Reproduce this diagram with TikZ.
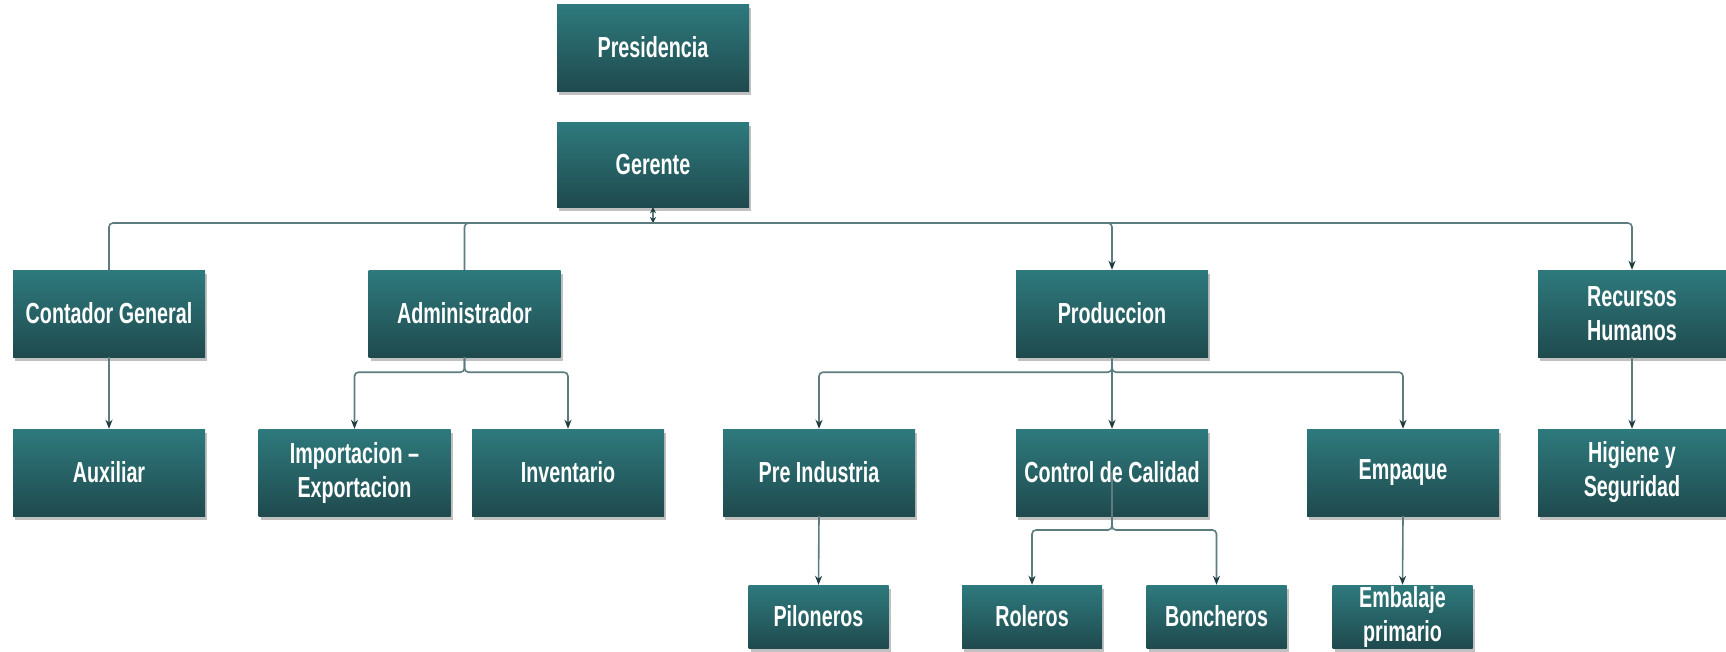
\documentclass[tikz,border=0pt]{standalone}
\usepackage{fontspec}
\setmainfont{Liberation Sans}[FakeStretch=0.68]
\usetikzlibrary{shadows,arrows.meta}
\definecolor{boxtop}{HTML}{2E7A7D}
\definecolor{boxbot}{HTML}{1F4A4E}
\definecolor{conncol}{HTML}{5C7C80}
\definecolor{tipcol}{HTML}{1E3C40}
\begin{document}
\begin{tikzpicture}[x=1pt,y=-1pt,
  orgbox/.style={rectangle, minimum width=192pt, minimum height=87pt, inner sep=0pt,
    top color=boxtop, bottom color=boxbot, draw=none, text=white, align=center,
    font=\bfseries\fontsize{29pt}{34pt}\selectfont,
    drop shadow={shadow xshift=2pt, shadow yshift=-4pt, opacity=0.35, fill=black!70}},
  smallbox/.style={orgbox, minimum width=140pt, minimum height=63pt},
  conn/.style={draw=conncol, line width=1.6pt, rounded corners=4pt},
  arr/.style={conn, -{Stealth[length=9pt,width=7pt,color=tipcol]}}]
\useasboundingbox (0,0) rectangle (1726,651);
\fill[white] (0,0) rectangle (1726,651);

\node[orgbox] (pres) at (653,47.5) {Presidencia};
\node[orgbox, minimum height=85pt] (ger) at (653,164.5) {Gerente};

\node[orgbox] (cont) at (109,313.5) {Contador General};
\node[orgbox] (adm) at (464.5,313.5) {Administrador};
\node[orgbox] (prod) at (1112,313.5) {Produccion};
\node[orgbox, minimum width=188pt] (rh) at (1632,313.5) {Recursos\\Humanos};

\node[orgbox] (aux) at (109,472.5) {Auxiliar};
\node[orgbox] (imp) at (354.5,472.5) {Importacion –\\Exportacion};
\node[orgbox] (inv) at (568,472.5) {Inventario};
\node[orgbox] (pre) at (819,472.5) {Pre Industria};
\node[orgbox] (cdc) at (1112,472.5) {Control de Calidad};
\node[orgbox] (emp) at (1403,472.5) {Empaque};
\node[orgbox, minimum width=188pt] (hig) at (1632,472.5) {Higiene y\\Seguridad};

\node[smallbox] (pil) at (818.5,616.5) {Piloneros};
\node[smallbox] (rol) at (1032,616.5) {Roleros};
\node[smallbox] (bon) at (1216.5,616.5) {Boncheros};
\node[smallbox] (emb) at (1402.5,616.5) {Embalaje\\primario};

\coordinate (bus) at (653,223);
\draw[conn, {Stealth[length=6pt,width=6pt,color=tipcol]}-{Stealth[length=6pt,width=6pt,color=tipcol]}] (ger.south) -- (bus);
\draw[conn] (bus) -| (cont.north);
\draw[conn] (bus) -| (adm.north);
\draw[arr] (bus) -| (prod.north);
\draw[arr] (bus) -| (rh.north);

\draw[arr] (cont.south) -- (aux.north);
\draw[arr] (adm.south) -- ++(0,15) -| (imp.north);
\draw[arr] (adm.south) -- ++(0,15) -| (inv.north);
\draw[arr] (prod.south) -- ++(0,15) -| (pre.north);
\draw[arr] (prod.south) -- (cdc.north);
\draw[arr] (prod.south) -- ++(0,15) -| (emp.north);
\draw[arr] (rh.south) -- (hig.north);

\draw[arr] (pre.south) -- (pil.north);
\draw[arr] (cdc.center) -- ++(0,57.5) -| (rol.north);
\draw[arr] (cdc.center) -- ++(0,57.5) -| (bon.north);
\draw[arr] (emp.south) -- (emb.north);
\end{tikzpicture}
\end{document}
